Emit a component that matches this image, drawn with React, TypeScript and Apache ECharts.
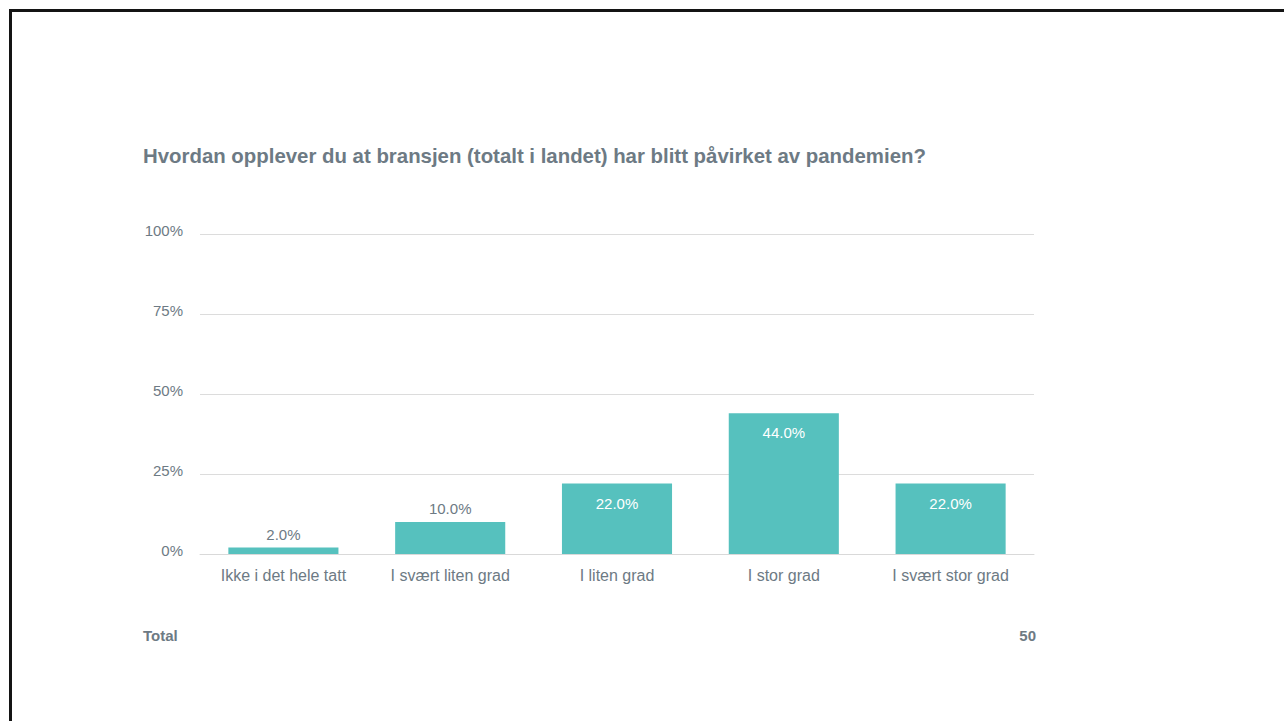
import React, { useEffect, useRef } from "react";
import * as echarts from "echarts";

const TITLE = "Hvordan opplever du at bransjen (totalt i landet) har blitt påvirket av pandemien?";
const CATEGORIES = [
  "Ikke i det hele tatt",
  "I svært liten grad",
  "I liten grad",
  "I stor grad",
  "I svært stor grad",
];
const VALUES = [2.0, 10.0, 22.0, 44.0, 22.0];
const Y_TICKS = [0, 25, 50, 75, 100];
const TOTAL_LABEL = "Total";
const TOTAL_VALUE = "50";

const GRAY = "#6d7a84";
const BAR = "#56c1be";
const FONT = "'Liberation Sans', Arial, sans-serif";

export default function App() {
  const ref = useRef<HTMLDivElement>(null);
  useEffect(() => {
    if (!ref.current) return;
    const chart = echarts.init(ref.current, undefined, { renderer: "svg" });
    chart.setOption({
      animation: false,
      backgroundColor: "#ffffff",
      textStyle: { fontFamily: FONT },
      grid: { left: 200, right: 250, top: 234, bottom: 167, containLabel: false },
      xAxis: {
        type: "category",
        data: CATEGORIES,
        axisLine: { show: true, lineStyle: { color: "#d9d9d9", width: 1 } },
        axisTick: { show: false },
        axisLabel: { color: GRAY, fontSize: 16, margin: 13, fontFamily: FONT },
      },
      yAxis: {
        type: "value",
        min: Y_TICKS[0],
        max: Y_TICKS[Y_TICKS.length - 1],
        interval: 25,
        axisLine: { show: false },
        axisTick: { show: false },
        splitLine: { lineStyle: { color: "#dcdcdc", width: 1 } },
        axisLabel: {
          color: GRAY,
          fontSize: 15,
          margin: 17,
          fontFamily: FONT,
          verticalAlign: "bottom",
          lineHeight: 7,
          formatter: (v: number) => `${v}%`,
        },
      },
      series: [
        {
          type: "bar",
          barWidth: "66%",
          itemStyle: { color: BAR },
          data: VALUES.map((v) => ({
            value: v,
            label:
              v >= 15
                ? { show: true, position: "insideTop", distance: 12, color: "#ffffff" }
                : { show: true, position: "top", distance: 6, color: GRAY },
          })),
          label: {
            show: true,
            fontSize: 15,
            fontFamily: FONT,
            formatter: (p: any) => `${Number(p.value).toFixed(1)}%`,
          },
        },
      ],
      graphic: [
        {
          type: "rect",
          shape: { x: 9, y: 9, width: 1284, height: 3 },
          style: { fill: "#141414" },
        },
        {
          type: "rect",
          shape: { x: 9, y: 9, width: 3, height: 730 },
          style: { fill: "#141414" },
        },
        {
          type: "text",
          left: 143,
          top: 146,
          style: {
            text: TITLE,
            fill: GRAY,
            font: `bold 20.4px ${FONT}`,
          },
        },
        {
          type: "text",
          left: 143,
          top: 628,
          style: { text: TOTAL_LABEL, fill: GRAY, font: `bold 15px ${FONT}` },
        },
        {
          type: "text",
          right: 248,
          top: 628,
          style: { text: TOTAL_VALUE, fill: GRAY, font: `bold 15px ${FONT}`, align: "right" },
        },
      ],
    });
    return () => chart.dispose();
  }, []);
  return (
    <div
      ref={ref}
      style={{ position: "absolute", left: 0, top: 0, width: 1284, height: 721 }}
    />
  );
}
